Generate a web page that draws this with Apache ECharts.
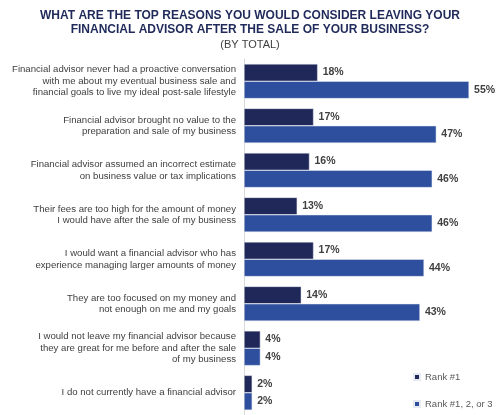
<!DOCTYPE html>
<html><head><meta charset="utf-8">
<script src="https://cdn.jsdelivr.net/npm/echarts@6/dist/echarts.min.js"></script>
<style>html,body{margin:0;padding:0;background:#fff}#c{width:500px;height:415px}</style>
</head><body><div id="c"></div>
<script>
const categories = [
  "Financial advisor never had a proactive conversation\nwith me about my eventual business sale and\nfinancial goals to live my ideal post-sale lifestyle",
  "Financial advisor brought no value to the\npreparation and sale of my business",
  "Financial advisor assumed an incorrect estimate\non business value or tax implications",
  "Their fees are too high for the amount of money\nI would have after the sale of my business",
  "I would want a financial advisor who has\nexperience managing larger amounts of money",
  "They are too focused on my money and\nnot enough on me and my goals",
  "I would not leave my financial advisor because\nthey are great for me before and after the sale\nof my business",
  "I do not currently have a financial advisor"
];
const rank1 = [18, 17, 16, 13, 17, 14, 4, 2];
const rank123 = [55, 47, 46, 46, 44, 43, 4, 2];
const seriesNames = ["Rank #1", "Rank #1, 2, or 3"];
const titleText = "WHAT ARE THE TOP REASONS YOU WOULD CONSIDER LEAVING YOUR\nFINANCIAL ADVISOR AFTER THE SALE OF YOUR BUSINESS?";
const subtitleText = "(BY TOTAL)";

const chart = echarts.init(document.getElementById('c'), null, {renderer: 'canvas'});
const lbl = {show: true, position: 'right', distance: 5, formatter: '{c}%', color: '#404040', fontWeight: 'bold', fontSize: 10.5, fontFamily: 'Liberation Sans'};
chart.setOption({
  animation: false,
  title: {
    text: titleText, subtext: subtitleText, left: 'center', top: 4, itemGap: 2,
    textStyle: {fontFamily: 'Liberation Sans', fontWeight: 'bold', fontSize: 12, color: '#1f2a5a', lineHeight: 14},
    subtextStyle: {fontFamily: 'Liberation Sans', fontSize: 11, color: '#404040'}
  },
  legend: {
    orient: 'vertical', left: 408, bottom: 1, itemWidth: 6, itemHeight: 6, itemGap: 17, icon: 'rect',
    textStyle: {fontFamily: 'Liberation Sans', fontSize: 9.5, color: '#595959'},
    data: seriesNames
  },
  grid: {left: 244, right: 10.5, top: 59, bottom: -3.5, containLabel: false},
  xAxis: {type: 'value', min: 0, max: 60, show: false},
  yAxis: {
    type: 'category', data: categories, inverse: true,
    axisLine: {show: true, lineStyle: {color: '#d9d9d9'}},
    axisTick: {show: false},
    axisLabel: {fontFamily: 'Liberation Sans', fontSize: 9.6, color: '#404040', lineHeight: 11.5, margin: 8, align: 'right'}
  },
  series: [
    {name: seriesNames[0], type: 'bar', data: rank1, barGap: '0%', barCategoryGap: '22%',
     itemStyle: {color: '#1f2858', borderColor: '#e8eaf2', borderWidth: 0.5}, label: lbl},
    {name: seriesNames[1], type: 'bar', data: rank123, barGap: '0%', barCategoryGap: '22%',
     itemStyle: {color: '#2d4f9e', borderColor: '#e8eaf2', borderWidth: 0.5}, label: lbl}
  ]
});
</script></body></html>
